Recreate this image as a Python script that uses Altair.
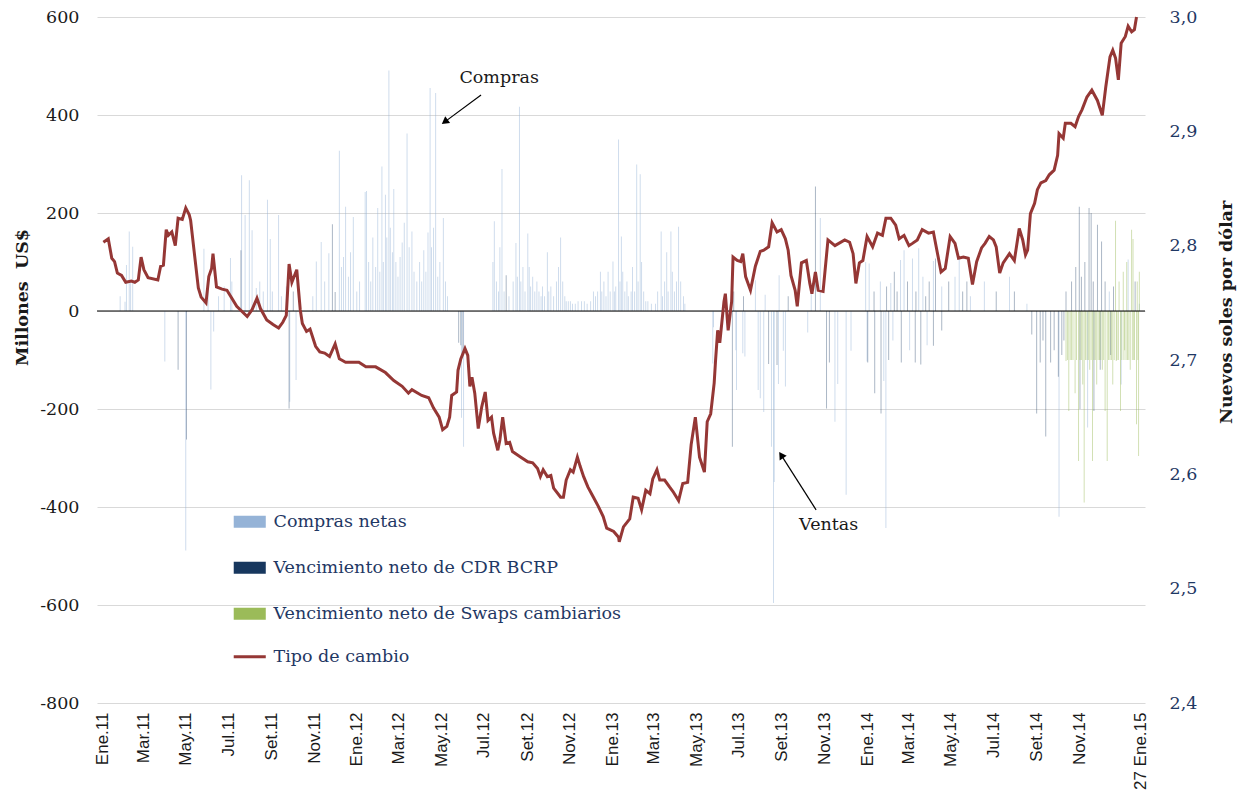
import json
import altair as alt
import pandas as pd

SERIF = "DejaVu Serif"
SANS = "Liberation Sans"

# ---------------- data ----------------
# Tipo de cambio (S/. por US$); day = days since 2011-01-01
fx_day = [2,9,14,18,22,28,34,42,47,52,56,60,66,80,84,88,92,95,100,105,109,115,120,125,127,132,138,142,149,153,157,159,164,172,179,186,193,208,215,222,227,236,245,253,259,264,268,272,279,284,287,293,298,306,312,319,326,334,340,349,359,368,373,
          378,392,406,418,430,439,444,458,468,475,483,488,494,498,501,508,510,514,520,524,527,530,534,539,544,549,553,558,561,567,570,574,579,584,588,600,610,617,624,628,632,638,643,647,657,661,665,671,675,681,685,690,696,704,711,718,723,733,740,
          741,747,756,761,768,773,779,785,789,795,799,806,813,818,826,832,839,844,850,856,863,867,872,877,879,882,885,891,893,897,902,904,910,915,918,922,929,936,943,948,955,960,967,973,979,983,987,993,996,1002,1009,1014,1017,1022,1026,1033,1040,1050,1064,1071,1076,1080,1085,
          1090,1096,1104,1111,1118,1123,1130,1137,1142,1149,1156,1161,1168,1175,1184,1191,1196,1202,1208,1215,1222,1227,1234,1241,1247,1253,1260,1265,1271,1277,1281,1286,1291,1300,1307,1314,1319,1323,1326,1330,1336,1340,1345,1352,1357,1364,1369,1371,1377,1380,1388,1394,1399,1404,1411,1418,1426,1433,1438,1444,1448,1452,1456,1460,1466,1470,1475,1479,1482]
fx_rate = [2.803,2.806,2.789,2.786,2.776,2.774,2.768,2.769,2.768,2.770,2.790,2.779,2.772,2.770,2.782,2.783,2.814,2.809,2.812,2.800,2.824,2.823,2.833,2.827,2.822,2.795,2.763,2.755,2.750,2.773,2.780,2.793,2.764,2.762,2.761,2.754,2.747,2.738,2.744,2.754,2.745,2.735,2.731,2.728,2.733,2.739,2.784,2.768,2.779,2.744,2.732,2.725,2.727,2.712,2.707,2.706,2.703,2.714,2.701,2.698,2.698,2.698,2.696,
           2.694,2.694,2.689,2.682,2.677,2.671,2.674,2.669,2.667,2.658,2.650,2.639,2.642,2.650,2.669,2.672,2.691,2.701,2.710,2.704,2.677,2.685,2.671,2.640,2.659,2.672,2.647,2.650,2.636,2.621,2.630,2.650,2.627,2.628,2.620,2.615,2.611,2.610,2.605,2.598,2.604,2.598,2.599,2.588,2.580,2.580,2.595,2.604,2.602,2.615,2.607,2.598,2.589,2.580,2.572,2.563,2.553,2.550,2.545,
           2.541,2.554,2.561,2.580,2.579,2.569,2.586,2.583,2.596,2.604,2.595,2.595,2.589,2.585,2.577,2.592,2.593,2.626,2.650,2.615,2.602,2.646,2.653,2.680,2.700,2.726,2.715,2.751,2.758,2.726,2.751,2.790,2.787,2.786,2.793,2.773,2.761,2.782,2.795,2.796,2.799,2.820,2.812,2.814,2.806,2.796,2.774,2.761,2.747,2.785,2.787,2.767,2.758,2.777,2.761,2.760,2.805,2.800,2.805,2.803,2.793,2.767,2.785,
           2.787,2.808,2.799,2.811,2.809,2.824,2.824,2.818,2.806,2.809,2.800,2.802,2.805,2.814,2.811,2.812,2.796,2.777,2.780,2.808,2.802,2.789,2.790,2.789,2.766,2.786,2.798,2.802,2.808,2.805,2.799,2.776,2.785,2.793,2.787,2.815,2.805,2.792,2.796,2.828,2.837,2.849,2.855,2.857,2.862,2.866,2.879,2.898,2.894,2.907,2.907,2.904,2.913,2.919,2.930,2.936,2.927,2.914,2.939,2.965,2.971,2.964,2.945,2.977,2.983,2.992,2.987,2.989,3.000]

# Compras netas (millones US$)
compras_day = [26,33,35,39,41,44,90,120,146,152,156,160,167,175,184,186,200,205,211,215,221,226,231,237,241,244,253,257,264,269,278,302,307,314,319,325,340,343,346,349,353,356,360,365,369,
               377,379,382,385,388,392,395,398,401,403,406,408,411,413,416,418,421,424,427,430,433,437,440,444,447,451,455,458,461,464,467,470,472,475,478,481,484,489,492,495,515,518,
               560,562,565,568,570,573,576,583,589,593,595,598,600,603,606,610,612,614,617,620,623,626,629,631,634,638,640,643,647,651,654,657,660,663,665,668,671,674,678,682,687,691,695,700,704,707,710,714,716,719,722,725,728,
               732,734,736,740,742,744,746,749,752,754,758,760,763,766,768,771,773,776,779,782,787,793,796,801,803,806,809,811,815,817,820,823,826,829,833,835,
               875,876,908,909,918,921,936,940,943,948,950,959,962,963,969,970,976,979,1011,1016,1029,1050,1054,1066,1073,1094,1096,1099,
               1115,1120,1123,1130,1133,1144,1149,1157,1161,1170,1176,1182,1191,1203,1222,1228,1244,1264,1300,1325,1371,1412,1443,1460,1470,1486]
compras_val = [30,19,94,162,60,131,-103,-489,127,60,-160,-42,30,50,108,60,277,196,267,165,47,60,40,227,147,40,196,30,50,-185,-141,30,101,141,60,118,327,90,110,213,70,120,192,40,60,
               243,245,100,60,150,90,210,80,295,100,237,150,491,170,120,249,100,70,110,140,180,362,130,162,80,60,100,60,124,80,160,455,130,170,445,70,100,190,60,30,-218,-277,
               100,183,60,40,130,290,40,30,60,139,70,417,60,90,40,158,90,50,70,40,60,40,30,50,30,120,40,50,30,60,90,150,60,30,20,20,20,15,15,20,20,20,15,20,40,30,40,80,40,60,30,80,40,
               101,40,50,350,60,152,80,40,60,30,40,90,40,299,60,279,100,40,20,20,15,15,40,162,30,60,120,40,162,80,40,60,172,60,30,15,
               -107,-33,-80,-161,-86,-93,63,-161,-178,-206,33,-277,-596,-349,-149,73,-81,-154,-44,43,190,-226,-149,-375,-81,100,-103,97,
               60,-143,-443,57,-60,104,124,-80,107,128,70,-70,102,50,70,111,30,60,70,15,-420,-238,40,-150,105,15]

# Vencimiento neto de CDR BCRP
cdr_day = [109,121,199,268,274,330,334,511,514,517,579,903,905,919,955,967,983,1022,1038,1042,1097,1106,1107,1116,1124,1127,1135,1139,1145,1154,1165,1166,1173,1180,1185,1191,1194,1203,1213,1233,1239,1281,1307,
           1332,1339,1344,1348,1352,1359,1364,1370,1375,1378,1381,1389,1395,1400,1401,1403,1408,1414,1417,1420,1421,1426,1430,1432,1437,1445,1449,1480]
cdr_val = [-120,-262,124,-199,40,177,39,-65,-70,-90,73,-277,40,30,-108,-110,30,254,-199,-105,-105,40,-168,-209,50,-100,80,40,-105,60,-105,40,-109,30,60,-71,107,-40,60,40,60,40,40,
           -48,-209,-105,-60,-256,-105,-80,-134,-90,-60,40,60,90,213,-200,70,100,210,200,60,-204,176,-120,142,60,-90,50,60]

# Vencimiento neto de Swaps cambiarios
swap_day = [1381,1383,1385,1387,1389,1391,1394,1396,1399,1401,1403,1405,1407,1409,1411,1413,1415,1417,1419,1421,1423,1425,1427,1429,1431,1433,1435,1437,1440,1442,1444,1446,1448,1450,1452,1453,1454,1456,1457,1459,1461,1463,1464,1465,1467,1468,1469,1471,1473,1475,1476,1477,1478,1479,1482,1483,1484,1485,1486]
swap_val = [-102,-100,-204,-100,-100,-100,-168,-100,-306,-100,-100,-150,-391,-100,-100,-100,-120,-100,-306,-100,-100,-150,-100,-100,-100,-120,-100,-204,-306,-100,-100,-100,-150,-100,184,-102,-100,-100,60,-204,-100,80,-100,-80,-100,100,-100,-100,-120,166,-100,147,-100,-100,-231,60,-100,-296,80]

series_names = ["Compras netas", "Vencimiento neto de CDR BCRP", "Vencimiento neto de Swaps cambiarios"]
series_colors = ["#95B3D7", "#17375E", "#9BBB59"]
line_name = "Tipo de cambio"
line_color = "#953735"

tick_dates = ["2011-01-01","2011-03-01","2011-05-01","2011-07-01","2011-09-01","2011-11-01",
              "2012-01-01","2012-03-01","2012-05-01","2012-07-01","2012-09-01","2012-11-01",
              "2013-01-01","2013-03-01","2013-05-01","2013-07-01","2013-09-01","2013-11-01",
              "2014-01-01","2014-03-01","2014-05-01","2014-07-01","2014-09-01","2014-11-01",
              "2015-01-27"]
tick_labels = ["Ene.11","Mar.11","May.11","Jul.11","Set.11","Nov.11",
               "Ene.12","Mar.12","May.12","Jul.12","Set.12","Nov.12",
               "Ene.13","Mar.13","May.13","Jul.13","Set.13","Nov.13",
               "Ene.14","Mar.14","May.14","Jul.14","Set.14","Nov.14",
               "27 Ene.15"]
x_start, x_end = "2011-01-01", "2015-01-27"

ann_text = ["Compras", "Ventas"]
ann_day = [569, 1041]
ann_val = [475, -437]
arrow_day_from = [543, 1023]
arrow_val_from = [441, -406]
arrow_day_to = [491, 973]
arrow_val_to = [386, -294]

# ---------------- frames ----------------
BASE = pd.Timestamp("2011-01-01")


def to_dates(days):
    return BASE + pd.to_timedelta(days, unit="D")


def dt(s):
    t = pd.Timestamp(s)
    return alt.DateTime(year=t.year, month=t.month, date=t.day)


fx_df = pd.DataFrame({"fecha": to_dates(fx_day), "tc": fx_rate, "serie": line_name})
comp_df = pd.DataFrame({"fecha": to_dates(compras_day), "v": compras_val, "serie": series_names[0]})
cdr_df = pd.DataFrame({"fecha": to_dates(cdr_day), "v": cdr_val, "serie": series_names[1]})
swap_df = pd.DataFrame({"fecha": to_dates(swap_day), "v": swap_val, "serie": series_names[2]})
zero_df = pd.DataFrame({"v": [0]})
ann_df = pd.DataFrame({"t": ann_text, "fecha": to_dates(ann_day), "v": ann_val})
arr_df = pd.DataFrame({"fecha": to_dates(arrow_day_from), "v": arrow_val_from,
                       "f2": to_dates(arrow_day_to), "v2": arrow_val_to})
head_df = pd.DataFrame({"fecha": to_dates(arrow_day_to), "v": arrow_val_to})

xscale = alt.Scale(domain=[dt(x_start), dt(x_end)])
label_expr = (json.dumps(tick_labels)
              + "[floor(((year(datum.value)-2011)*12+month(datum.value))/2)]")
xaxis = alt.Axis(values=[dt(d) for d in tick_dates], labelExpr=label_expr, labelAngle=270,
                 labelFont=SANS, labelFontSize=17, labelColor="#1a1a1a", labelPadding=9,
                 labelOverlap=False, labelFlush=False, ticks=False, domain=False, grid=False,
                 title=None)
X = alt.X("fecha:T", scale=xscale, axis=xaxis, title=None)

yscale = alt.Scale(domain=[-800, 600], nice=False, zero=False)
yaxis = alt.Axis(values=list(range(-800, 601, 200)), grid=True, gridColor="#d9d9d9", gridWidth=1.2,
                 domain=False, ticks=False, labelFont=SERIF, labelFontSize=17.5, labelColor="#1a1a1a",
                 labelPadding=18, labelExpr="'' + datum.value",
                 title="Millones\u00a0 US$", titleFont=SERIF, titleFontSize=17.5, titleFontWeight="bold",
                 titleColor="#1a1a1a", titleAngle=270, titleX=-75, titleY=280, titleAlign="center",
                 titleBaseline="middle")
Y = alt.Y("v:Q", scale=yscale, axis=yaxis, stack=None, title="Millones\u00a0 US$")

rect_path = "M-2.67,-1H2.67V1H-2.67Z"
bar_legend = alt.Legend(title=None, orient="none", legendX=144, legendY=496, symbolType=rect_path,
                        symbolSize=144, symbolOpacity=1, symbolStrokeWidth=0, labelFont=SERIF,
                        labelFontSize=17.5, labelColor="#1F3864", labelOffset=15, rowPadding=27,
                        labelLimit=600)
color = alt.Color("serie:N", scale=alt.Scale(domain=series_names, range=series_colors), legend=bar_legend)


def bars(df, op):
    return alt.Chart(df).mark_bar(width=0.9, opacity=op).encode(x=X, y=Y, color=color)


comp_bars = bars(comp_df, 0.5)
cdr_bars = bars(cdr_df, 0.4)
swap_bars = bars(swap_df, 0.5)

zero_rule = alt.Chart(zero_df).mark_rule(color="black", strokeWidth=1).encode(y=Y)

arrows = alt.Chart(arr_df).mark_rule(color="black", strokeWidth=1.2).encode(
    x=X, x2="f2:T", y=Y, y2="v2:Q")
head1 = alt.Chart(head_df.iloc[[0]]).mark_point(shape="triangle-up", filled=True, size=70, angle=234,
                                               color="black", opacity=1).encode(x=X, y=Y)
head2 = alt.Chart(head_df.iloc[[1]]).mark_point(shape="triangle-up", filled=True, size=70, angle=327,
                                               color="black", opacity=1).encode(x=X, y=Y)
texts = alt.Chart(ann_df).mark_text(font=SERIF, fontSize=17.5, color="#1a1a1a").encode(
    x=X, y=Y, text="t:N")

left = alt.layer(comp_bars, cdr_bars, swap_bars, zero_rule, arrows, head1, head2, texts)

line_legend = alt.Legend(title=None, orient="none", legendX=144, legendY=631,
                         symbolType="M-2.67,0H2.67", symbolSize=144, symbolStrokeWidth=3,
                         labelFont=SERIF, labelFontSize=17.5, labelColor="#1F3864", labelOffset=15,
                         labelLimit=600)
line = alt.Chart(fx_df).mark_line(strokeWidth=3).encode(
    x=X,
    y=alt.Y("tc:Q", scale=alt.Scale(domain=[2.4, 3.0], nice=False, zero=False),
            title="Nuevos soles por dólar",
            axis=alt.Axis(orient="right", values=[2.4, 2.5, 2.6, 2.7, 2.8, 2.9, 3.0], grid=False,
                          domain=False, ticks=False, labelFont=SERIF, labelFontSize=17.5,
                          labelColor="#1F3864", labelPadding=24,
                          labelExpr="replace(format(datum.value, '.1f'), '.', ',')",
                          title="Nuevos soles por dólar", titleFont=SERIF, titleFontSize=17.5,
                          titleFontWeight="bold", titleColor="#1a1a1a", titleAngle=270,
                          titleX=81, titleY=295, titleAlign="center", titleBaseline="middle")),
    stroke=alt.Stroke("serie:N", scale=alt.Scale(domain=[line_name], range=[line_color]),
                      legend=line_legend))

chart = alt.layer(left, line).resolve_scale(y="independent").properties(
    width=1048, height=686,
    autosize=alt.AutoSizeParams(type="none"),
    padding={"left": 89, "top": 9, "right": 95, "bottom": 91},
).configure_view(stroke=None)

chart.save("out.html", embed_options={"renderer": "svg", "actions": False})
